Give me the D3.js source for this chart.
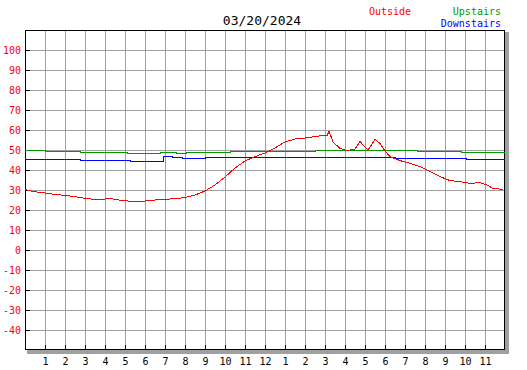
<!DOCTYPE html>
<html>
<head>
<meta charset="utf-8">
<script src="https://cdn.jsdelivr.net/npm/d3@7"></script>
<style>
  body { margin: 0; background: #fff; }
  text { font-family: "DejaVu Sans Mono", monospace; }
</style>
</head>
<body>
<div id="chart"></div>
<script>
// titulo e legenda
const title = "03/20/2024";
const seriesNames = ["Outside", "Upstairs", "Downstairs"];
const seriesColors = ["#ff0000", "#009900", "#0000ff"];

// eixos
const hourLabels = ["1","2","3","4","5","6","7","8","9","10","11","12","1","2","3","4","5","6","7","8","9","10","11"];
const tempTicks = [100, 90, 80, 70, 60, 50, 40, 30, 20, 10, 0, -10, -20, -30, -40];

// Outside (hora, temperatura)
const outsideHours = [0, 0.4, 1, 1.5, 2, 2.5, 3, 3.5, 4, 4.25, 4.5, 5, 5.5, 6, 6.5, 7, 7.5, 8, 8.5, 9, 9.5, 10, 10.5, 11, 11.5, 12, 12.5, 13, 13.5, 14, 14.5, 15, 15.1, 15.2, 15.4, 15.75, 16.1, 16.5, 16.75, 17.15, 17.5, 17.75, 18, 18.25, 18.75, 19.25, 19.75, 20.25, 20.75, 21.25, 21.75, 22.25, 22.75, 23.1, 23.4, 23.9];
const outsideTemps = [30.3, 29.2, 28.5, 27.8, 27.3, 26.7, 25.8, 25.3, 25.5, 25.9, 25.3, 24.6, 24.3, 24.5, 25, 25.3, 25.7, 26.2, 27.5, 29.5, 32.5, 36.5, 41, 44.5, 46.7, 48.5, 51, 54, 55.5, 56, 56.7, 57.5, 57, 59.5, 54, 50.8, 49.7, 50.5, 54.2, 50, 55.3, 53.3, 49.5, 46.7, 44.7, 43.3, 41.7, 39.2, 36.7, 34.7, 34.2, 33.3, 33.7, 32.5, 30.8, 30.3];

// Upstairs
const upstairsHours = [0, 1, 2.75, 5.1, 6.75, 7.55, 8.05, 10.25, 14.5, 19.6, 21.8, 24];
const upstairsTemps = [49.8, 49.3, 48.8, 48.3, 48.8, 48.3, 48.8, 49.3, 49.8, 49.3, 48.8, 48.8];

// Downstairs
const downstairsHours = [0, 2.75, 5.25, 6.9, 7.35, 7.85, 9, 18.5, 22.05, 24];
const downstairsTemps = [45.3, 44.8, 44.3, 46.9, 46.3, 45.8, 46.2, 45.8, 45.3, 45.3];

// ––––––––––––––––––––––––––––––––––––––––––––––––––––––––

const width = 527, height = 370;
const plotLeft = 25, plotTop = 30, plotRight = 505, plotBottom = 350;

const svg = d3.select("#chart").append("svg")
  .attr("width", width)
  .attr("height", height);

// Escalas
const x = d3.scaleLinear().domain([0, 24]).range([plotLeft, plotRight]);
const y = d3.scaleLinear().domain([-50, 110]).range([plotBottom, plotTop]);

// Sombra da moldura
svg.append("rect")
  .attr("x", plotLeft + 2)
  .attr("y", plotTop + 2)
  .attr("width", plotRight - plotLeft + 2)
  .attr("height", plotBottom - plotTop + 2)
  .attr("fill", "#a0a0a0");

svg.append("rect")
  .attr("x", plotLeft)
  .attr("y", plotTop)
  .attr("width", plotRight - plotLeft)
  .attr("height", plotBottom - plotTop)
  .attr("fill", "#fff");

// Grelha
const grid = svg.append("g")
  .attr("stroke", "#a0a0a0")
  .attr("stroke-width", 1)
  .attr("shape-rendering", "crispEdges");

grid.selectAll(".vgrid")
  .data(d3.range(1, 24))
  .enter()
  .append("line")
  .attr("x1", (d) => x(d) + 0.5)
  .attr("x2", (d) => x(d) + 0.5)
  .attr("y1", plotTop)
  .attr("y2", plotBottom);

grid.selectAll(".hgrid")
  .data(d3.range(-40, 110, 10))
  .enter()
  .append("line")
  .attr("x1", plotLeft)
  .attr("x2", plotRight)
  .attr("y1", (d) => y(d) + 0.5)
  .attr("y2", (d) => y(d) + 0.5);

// Moldura
svg.append("rect")
  .attr("x", plotLeft + 0.5)
  .attr("y", plotTop + 0.5)
  .attr("width", plotRight - plotLeft - 1)
  .attr("height", plotBottom - plotTop - 1)
  .attr("fill", "none")
  .attr("stroke", "#000")
  .attr("stroke-width", 1)
  .attr("shape-rendering", "crispEdges");

// Marcas eixo Y
const yAxis = svg.append("g");
yAxis.selectAll("line")
  .data(tempTicks)
  .enter()
  .append("line")
  .attr("x1", plotLeft)
  .attr("x2", plotLeft + 5)
  .attr("y1", (d) => y(d) + 0.5)
  .attr("y2", (d) => y(d) + 0.5)
  .attr("stroke", "#000")
  .attr("shape-rendering", "crispEdges");

yAxis.selectAll("text")
  .data(tempTicks)
  .enter()
  .append("text")
  .attr("x", 21)
  .attr("y", (d) => y(d) + 4)
  .attr("text-anchor", "end")
  .attr("font-size", 10)
  .attr("fill", "#ff0000")
  .text((d) => d);

// Marcas eixo X
const xAxis = svg.append("g");
xAxis.selectAll("line")
  .data(hourLabels)
  .enter()
  .append("line")
  .attr("x1", (d, i) => x(i + 1) + 0.5)
  .attr("x2", (d, i) => x(i + 1) + 0.5)
  .attr("y1", plotBottom - 5)
  .attr("y2", plotBottom)
  .attr("stroke", "#000")
  .attr("shape-rendering", "crispEdges");

xAxis.selectAll("text")
  .data(hourLabels)
  .enter()
  .append("text")
  .attr("x", (d, i) => x(i + 1) + 0.5)
  .attr("y", 365)
  .attr("text-anchor", "middle")
  .attr("font-size", 10)
  .attr("fill", "#000")
  .text((d) => d);

// Linhas
const line = d3.line()
  .x((d) => x(d[0]))
  .y((d) => y(d[1]));

const series = [
  { name: "Upstairs", color: seriesColors[1], pts: d3.zip(upstairsHours, upstairsTemps), curve: d3.curveStepAfter },
  { name: "Downstairs", color: seriesColors[2], pts: d3.zip(downstairsHours, downstairsTemps), curve: d3.curveStepAfter },
  { name: "Outside", color: seriesColors[0], pts: d3.zip(outsideHours, outsideTemps), curve: d3.curveLinear },
];

svg.append("g")
  .selectAll("path")
  .data(series)
  .enter()
  .append("path")
  .attr("d", (s) => line.curve(s.curve)(s.pts))
  .attr("fill", "none")
  .attr("stroke", (s) => s.color)
  .attr("stroke-width", 1)
  .attr("shape-rendering", "crispEdges");

// Titulo
svg.append("text")
  .attr("x", 262)
  .attr("y", 25)
  .attr("text-anchor", "middle")
  .attr("font-size", 13)
  .attr("fill", "#000")
  .text(title);

// Legenda
svg.append("text")
  .attr("x", 369).attr("y", 15)
  .attr("font-size", 10).attr("fill", seriesColors[0])
  .text(seriesNames[0]);
svg.append("text")
  .attr("x", 501).attr("y", 15)
  .attr("text-anchor", "end")
  .attr("font-size", 10).attr("fill", seriesColors[1])
  .text(seriesNames[1]);
svg.append("text")
  .attr("x", 501).attr("y", 27)
  .attr("text-anchor", "end")
  .attr("font-size", 10).attr("fill", seriesColors[2])
  .text(seriesNames[2]);
</script>
</body>
</html>
